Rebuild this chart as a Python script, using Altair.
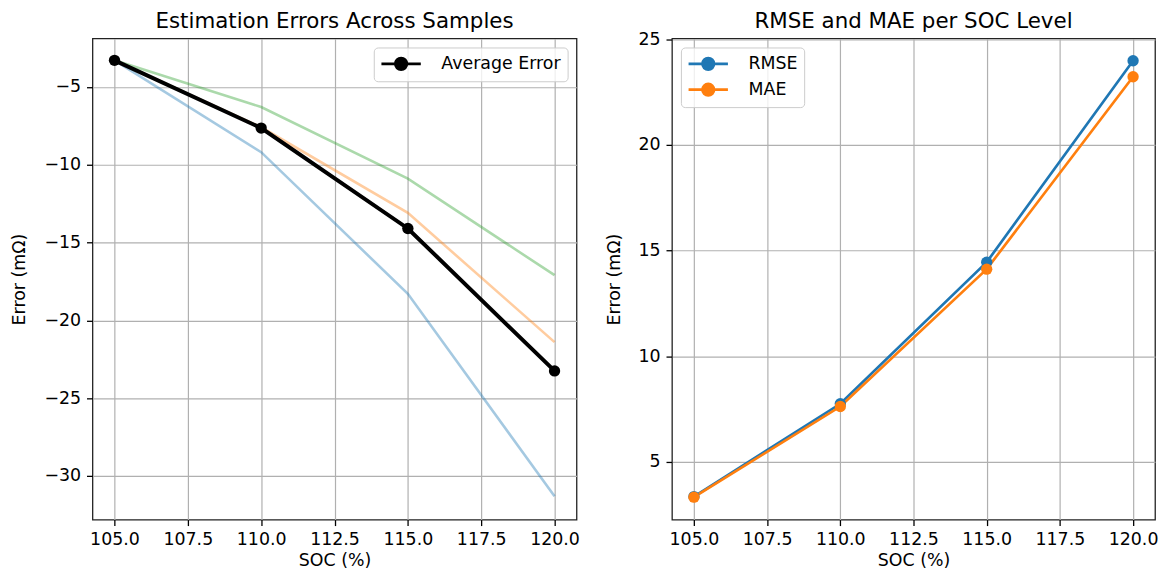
import altair as alt
import pandas as pd

soc = [105, 110, 115, 120]
sample_1 = [-3.3, -9.2, -18.3, -31.3]
sample_2 = [-3.3, -7.6, -13.1, -21.4]
sample_3 = [-3.3, -6.3, -10.9, -17.1]
avg_error = [-3.3, -7.65, -14.1, -23.25]
rmse = [3.36, 7.75, 14.45, 23.98]
mae = [3.33, 7.62, 14.12, 23.22]

x_ticks = [105.0, 107.5, 110.0, 112.5, 115.0, 117.5, 120.0]
y_ticks_left = [-30, -25, -20, -15, -10, -5]
y_ticks_right = [5, 10, 15, 20, 25]

FONT = "DejaVu Sans"
FS = 17.5
PATH = "M-2.2,0H2.2M-0.65,0A0.65,0.65,0,1,1,0.65,0A0.65,0.65,0,1,1,-0.65,0Z"

samples_df = pd.DataFrame({
    "soc": soc * 3,
    "err": sample_1 + sample_2 + sample_3,
    "sample": ["s1"] * 4 + ["s2"] * 4 + ["s3"] * 4,
})
avg_df = pd.DataFrame({"soc": soc, "err": avg_error, "series": ["Average Error"] * 4})
metric_df = pd.DataFrame({
    "soc": soc * 2,
    "err": rmse + mae,
    "series": ["RMSE"] * 4 + ["MAE"] * 4,
})

W, H = 487, 484

def xenc():
    return alt.X("soc:Q", scale=alt.Scale(domain=[104.25, 120.75], nice=False, zero=False),
                 axis=alt.Axis(values=x_ticks, format=".1f", title="SOC (%)"))

def yenc(domain, ticks):
    return alt.Y("err:Q", scale=alt.Scale(domain=domain, nice=False, zero=False),
                 axis=alt.Axis(values=ticks, format="d", title="Error (mΩ)"))

def legend(orient):
    return alt.Legend(title=None, orient=orient, offset=9, symbolType=PATH, symbolSize=324,
                      symbolStrokeWidth=2.7, symbolOffset=11, labelFontSize=FS, labelFont=FONT,
                      labelColor="black", padding=6, fillColor="rgba(255,255,255,0.8)",
                      strokeColor="#cccccc", cornerRadius=4, rowPadding=3, labelOffset=30,
                      symbolOpacity=1)

ydom_l = [-32.8, -1.9]
samples = alt.Chart(samples_df).mark_line(strokeWidth=2.6, opacity=0.4).encode(
    x=xenc(), y=yenc(ydom_l, y_ticks_left),
    color=alt.Color("sample:N", scale=alt.Scale(domain=["s1", "s2", "s3"],
                    range=["#1f77b4", "#ff7f0e", "#2ca02c"]), legend=None),
)
avg_sc = alt.Scale(domain=["Average Error"], range=["black"])
avg_line = alt.Chart(avg_df).mark_line(strokeWidth=4).encode(
    x=xenc(), y=yenc(ydom_l, y_ticks_left),
    stroke=alt.Stroke("series:N", scale=avg_sc, legend=legend("top-right")),
)
avg_pts = alt.Chart(avg_df).mark_point(filled=True, size=130, opacity=1).encode(
    x=xenc(), y=yenc(ydom_l, y_ticks_left),
    fill=alt.Fill("series:N", scale=avg_sc, legend=legend("top-right")),
)
left = alt.layer(samples, avg_line, avg_pts).properties(
    width=W, height=H,
    title=alt.TitleParams("Estimation Errors Across Samples", frame="group", offset=6))

ydom_r = [2.27, 25.03]
met_sc = alt.Scale(domain=["RMSE", "MAE"], range=["#1f77b4", "#ff7f0e"])
met_line = alt.Chart(metric_df).mark_line(strokeWidth=2.7).encode(
    x=xenc(), y=yenc(ydom_r, y_ticks_right),
    stroke=alt.Stroke("series:N", scale=met_sc, legend=legend("top-left")),
)
met_pts = alt.Chart(metric_df).mark_point(filled=True, size=130, opacity=1).encode(
    x=xenc(), y=yenc(ydom_r, y_ticks_right),
    fill=alt.Fill("series:N", scale=met_sc, legend=legend("top-left")),
)
right = alt.layer(met_line, met_pts).properties(
    width=W - 1, height=H,
    title=alt.TitleParams("RMSE and MAE per SOC Level", frame="group", offset=-2))

chart = alt.hconcat(left, right, spacing=24).resolve_scale(
    stroke="independent", fill="independent", color="independent"
).resolve_legend(stroke="independent", fill="independent").properties(
    padding={"left": 2, "top": 0, "right": 2, "bottom": 0}
).configure(font=FONT).configure_view(
    stroke="#222222", strokeWidth=1.3
).configure_axis(
    grid=True, gridColor="#b0b0b0", gridWidth=1.2, domain=False,
    tickColor="black", tickSize=6, tickWidth=1.3,
    labelFont=FONT, labelFontSize=FS, labelColor="black", labelPadding=5,
    titleFont=FONT, titleFontSize=FS, titleFontWeight="normal", titleColor="black",
    titlePadding=4,
).configure_axisY(titlePadding=15, labelPadding=6).configure_title(
    font=FONT, fontSize=21.5, fontWeight="normal", color="black", anchor="middle"
)

chart.save("out.html", embed_options={"renderer": "svg", "actions": False})
